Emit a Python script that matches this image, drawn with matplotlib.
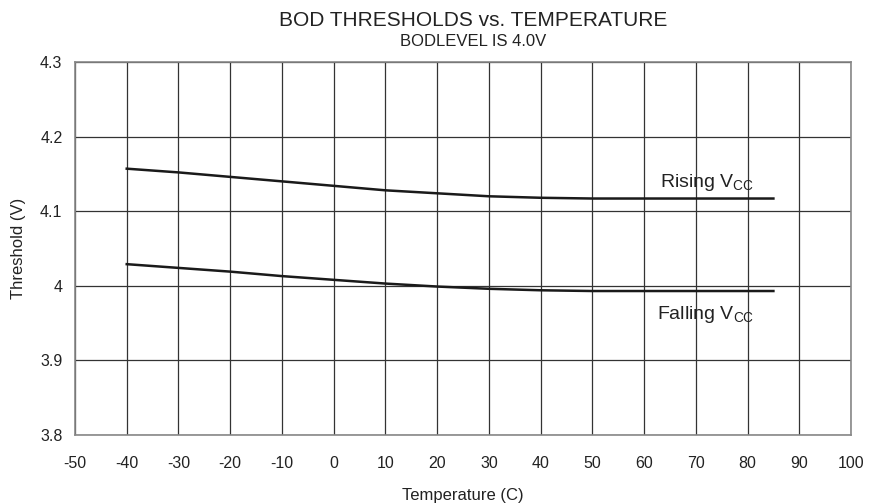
import matplotlib
matplotlib.use("Agg")
import matplotlib.pyplot as plt
import numpy as np

plt.rcParams['font.family'] = ['Liberation Sans', 'DejaVu Sans']

temps = [-40, -30, -20, -10, 0, 10, 20, 30, 40, 50, 60, 70, 80, 85]
rising = [4.157, 4.152, 4.146, 4.140, 4.134, 4.128, 4.124, 4.120, 4.118, 4.117, 4.117, 4.117, 4.117, 4.117]
falling = [4.029, 4.024, 4.019, 4.013, 4.008, 4.003, 3.999, 3.996, 3.994, 3.993, 3.993, 3.993, 3.993, 3.993]

xticks = list(range(-50, 101, 10))
yticks = [3.8, 3.9, 4.0, 4.1, 4.2, 4.3]
ylabels = ["3.8", "3.9", "4", "4.1", "4.2", "4.3"]

fig = plt.figure(figsize=(8.69, 5.04), dpi=100)
ax = fig.add_axes([75/869, 1 - 435/504, (851-75)/869, (435-62)/504])

ax.plot(temps, rising, color='#1a1a1a', lw=1.8)
ax.plot(temps, falling, color='#1a1a1a', lw=1.8)

ax.set_xlim(-50, 100)
ax.set_ylim(3.8, 4.3)
ax.set_xticks(xticks)
ax.set_xticklabels([str(t) for t in xticks], fontsize=11.5, color='#222222')
ax.set_yticks(yticks)
ax.set_yticklabels(ylabels, fontsize=11.5, color='#222222')
ax.tick_params(axis='x', length=0, pad=15)
ax.tick_params(axis='y', length=0, pad=9)
ax.grid(True, color='#333333', lw=0.9)
for s in ax.spines.values():
    s.set_color('#888888')
    s.set_linewidth(1.2)

ax.set_xlabel("Temperature (C)", fontsize=12, labelpad=12, color='#222222')
ax.set_ylabel("Threshold (V)", fontsize=12, labelpad=10, color='#222222')

ax.text(63.0, 4.138, r"Rising V$_{\mathregular{CC}}$", fontsize=14, va='center', ha='left', color='#222222')
ax.text(62.5, 3.961, r"Falling V$_{\mathregular{CC}}$", fontsize=14, va='center', ha='left', color='#222222')

fig.text(473/869, 1 - 20/504, "BOD THRESHOLDS vs. TEMPERATURE", ha='center', va='center', fontsize=15, color='#222222')
fig.text(473/869, 1 - 41/504, "BODLEVEL IS 4.0V", ha='center', va='center', fontsize=12, color='#222222')

fig.savefig("out.png", dpi=100)
